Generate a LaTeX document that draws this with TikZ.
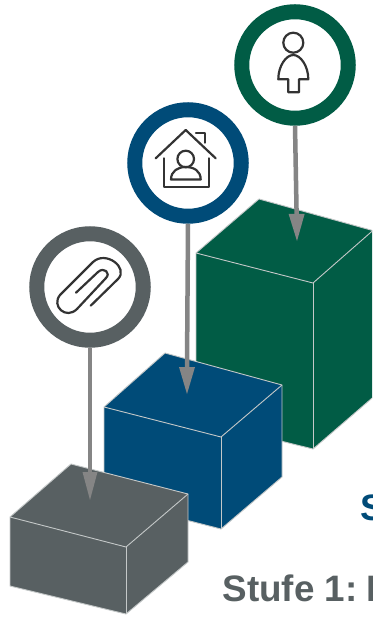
\documentclass[tikz,border=0pt]{standalone}
\usepackage{fontspec}
\setmainfont{Liberation Sans}
\definecolor{cgreen}{HTML}{015C45}
\definecolor{cblue}{HTML}{004B78}
\definecolor{cgrey}{HTML}{586062}
\definecolor{cedge}{HTML}{C4C8C8}
\definecolor{carrow}{HTML}{858585}
\definecolor{cicon}{HTML}{333333}
\tikzset{
  face/.style={draw=cedge,line width=0.9pt,line join=round},
  ring/.style={circle,fill=white,minimum size=106.5pt,inner sep=0pt,line width=15pt},
  pin/.style={draw=carrow,line width=4.5pt},
  pinhead/.style={fill=carrow,draw=none},
  iconline/.style={draw=cicon,line width=2.2pt,line cap=round,line join=round},
  steptext/.style={font=\bfseries\fontsize{36.8pt}{40pt}\selectfont,anchor=base west,inner sep=0pt},
}
\begin{document}
\begin{tikzpicture}[x=1pt,y=-1pt]
\useasboundingbox (0,0) rectangle (372,617);
\clip (0,0) rectangle (372,617);
\fill[white] (0,0) rectangle (372,617);
% labels
\node[steptext,text=cblue] (lab2) at (360.5,520) {S};
\node[steptext,text=cgrey] (lab1) at (222.5,601) {Stufe 1:\kern-1.5pt\ I};
% green box
\filldraw[face,fill=cgreen] (196,253) -- (259,199) -- (378,232) -- (378,393) -- (313,449) -- (196,420) -- cycle;
\draw[face] (196,253) -- (313,283) -- (378,226);
\draw[face] (313,283) -- (313,449);
% blue box
\filldraw[face,fill=cblue] (104,407) -- (165,353) -- (282,385) -- (282,477) -- (221,529) -- (104,499) -- cycle;
\draw[face] (104,407) -- (221,437) -- (282,385);
\draw[face] (221,437) -- (221,529);
% grey box
\filldraw[face,fill=cgrey] (10,517) -- (71,464) -- (188,494) -- (188,562) -- (126,614) -- (10,586) -- cycle;
\draw[face] (10,517) -- (126,547) -- (188,494);
\draw[face] (126,547) -- (126,614);
% rings
\node[ring,draw=cgreen] (r3) at (295,65) {};
\node[ring,draw=cblue] (r2) at (188,163) {};
\node[ring,draw=cgrey] (r1) at (90,287) {};
% pins
\coordinate (t3) at (297,241); \coordinate (b3) at (296.6,214);
\coordinate (t2) at (187,394); \coordinate (b2) at (187,367);
\coordinate (t1) at (90,500); \coordinate (b1) at (90,472);
\draw[pin] (r3.south) -- (b3);
\draw[pin] (r2.south) -- (b2);
\draw[pin] (r1.south) -- (b1);
\fill[pinhead] (t3) -- (288.6,214) -- (304.6,214) -- cycle;
\fill[pinhead] (t2) -- (179,367) -- (195,367) -- cycle;
\fill[pinhead] (t1) -- (82.5,472) -- (97.5,472) -- cycle;
% person icon
\draw[iconline] (293.3,42.7) circle (10);
\draw[iconline] (278.3,79.3) .. controls (278.3,66) and (286,55) .. (293.3,55) .. controls (300.5,55) and (308.3,66) .. (308.3,79.3) -- (299,79.3) -- (299,92.3) -- (288.3,92.3) -- (288.3,79.3) -- cycle;
% house icon
\draw[iconline] (155.7,158.3) -- (185.7,130) -- (215.7,158.3);
\draw[iconline] (164,158.3) -- (164,187.3) -- (208.7,187.3) -- (208.7,158.3);
\draw[iconline] (196,132.7) -- (205.3,132.7) -- (205.3,142.7);
\draw[iconline] (185.7,159) circle (8.3);
\draw[iconline] (171,179.5) .. controls (171,171) and (178,167) .. (185.7,167) .. controls (194,167) and (200.7,171) .. (200.7,179.5) -- cycle;
% clip icon
\draw[iconline] (76,292.7) -- (98,272) .. controls (104,266.5) and (111,273) .. (106,278) -- (77,309) .. controls (66,320) and (51,306) .. (60,295) -- (93,262) .. controls (106,250) and (129,268) .. (118,279) -- (90.7,305.7);
\end{tikzpicture}
\end{document}
